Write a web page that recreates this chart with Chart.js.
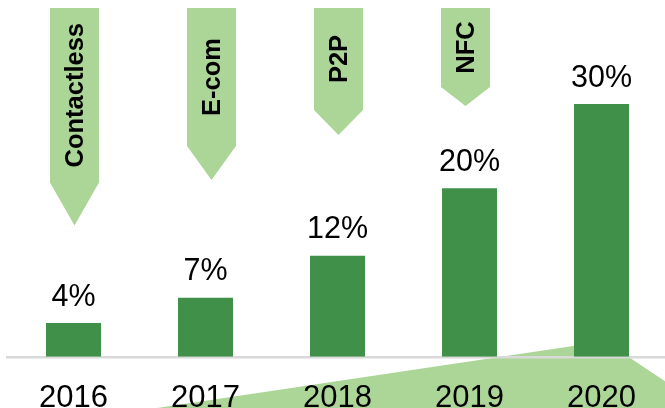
<!DOCTYPE html>
<html>
<head>
<meta charset="utf-8">
<script src="https://cdn.jsdelivr.net/npm/chart.js@4/dist/chart.umd.min.js"></script>
<style>
  html, body { margin: 0; padding: 0; overflow: hidden; background: #fff; }
  #wrap { position: relative; width: 668px; height: 440px; }
</style>
</head>
<body>
<div id="wrap"><canvas id="chart"></canvas></div>
<script>
// dados do grafico
const years = ['2016', '2017', '2018', '2019', '2020'];
const shares = [4, 7, 12, 20, 30];
// marcos (bandeirolas) acima das barras
const milestones = ['Contactless', 'E-com', 'P2P', 'NFC'];

// layout das bandeirolas (px): deslocamento x, fim do corpo, ponta
const flagOffsets = [1, 6, 1, -4];
const flagBodyEnd = [182.5, 146, 110, 87];
const flagTipEnd = [225.5, 180, 135, 106];

const barGreen = '#40904a';
const lightGreen = '#acd598';
const fontFamily = '"Liberation Sans", Arial, sans-serif';

// triangulo claro no fundo
const wedgePlugin = {
    id: 'wedge',
    beforeDraw(chart) {
        const { ctx, scales } = chart;
        const ax = scales.x.getPixelForValue(4) + 3.5;
        const ay = scales.y.getPixelForValue(0) - 15.5;
        ctx.save();
        ctx.fillStyle = lightGreen;
        ctx.beginPath();
        ctx.moveTo(ax, ay);
        ctx.lineTo(720, ay + 0.667 * (720 - ax));
        ctx.lineTo(720, 460);
        ctx.lineTo(100, 460);
        ctx.lineTo(100, ay + 0.149 * (ax - 100));
        ctx.closePath();
        ctx.fill();
        ctx.restore();
    }
};

// bandeirolas com texto vertical
const flagsPlugin = {
    id: 'flags',
    beforeDatasetsDraw(chart) {
        const { ctx, scales } = chart;
        const w = 49;
        ctx.save();
        milestones.forEach((label, i) => {
            const cx = scales.x.getPixelForValue(i) + flagOffsets[i];
            const top = 8;
            ctx.fillStyle = lightGreen;
            ctx.beginPath();
            ctx.moveTo(cx - w / 2, top);
            ctx.lineTo(cx + w / 2, top);
            ctx.lineTo(cx + w / 2, flagBodyEnd[i]);
            ctx.lineTo(cx, flagTipEnd[i]);
            ctx.lineTo(cx - w / 2, flagBodyEnd[i]);
            ctx.closePath();
            ctx.fill();

            ctx.save();
            ctx.translate(cx + 8.5, (top + flagBodyEnd[i]) / 2);
            ctx.rotate(-Math.PI / 2);
            ctx.fillStyle = '#000';
            ctx.font = 'bold 25.5px ' + fontFamily;
            ctx.textAlign = 'center';
            ctx.textBaseline = 'alphabetic';
            ctx.fillText(label, 0, 0);
            ctx.restore();
        });
        ctx.restore();
    }
};

// rotulos de valor acima das barras
const valueLabels = {
    id: 'valueLabels',
    afterDatasetsDraw(chart) {
        const { ctx } = chart;
        const meta = chart.getDatasetMeta(0);
        ctx.save();
        ctx.fillStyle = '#000';
        ctx.font = '30.5px ' + fontFamily;
        ctx.textAlign = 'center';
        ctx.textBaseline = 'alphabetic';
        meta.data.forEach((bar, i) => {
            ctx.fillText(shares[i] + '%', bar.x, bar.y - 17.5);
        });
        ctx.restore();
    }
};

new Chart(document.getElementById('chart'), {
    type: 'bar',
    data: {
        labels: years,
        datasets: [{
            data: shares,
            backgroundColor: barGreen,
            borderWidth: 0,
            barPercentage: 0.4167,
            categoryPercentage: 1,
        }],
    },
    options: {
        responsive: true,
        maintainAspectRatio: false,
        animation: false,
        layout: { padding: { top: 3, left: 7.5, right: 0.5, bottom: 0 } },
        plugins: {
            legend: { display: false },
            tooltip: { enabled: false },
        },
        scales: {
            x: {
                grid: { display: false, drawTicks: false },
                border: { display: true, color: '#d9d9d9', width: 2.5 },
                ticks: {
                    color: '#000',
                    padding: 23,
                    font: { family: fontFamily, size: 31 },
                },
            },
            y: {
                display: false,
                min: 0,
                max: 42,
            },
        },
    },
    plugins: [wedgePlugin, flagsPlugin, valueLabels],
});
</script>
</body>
</html>
